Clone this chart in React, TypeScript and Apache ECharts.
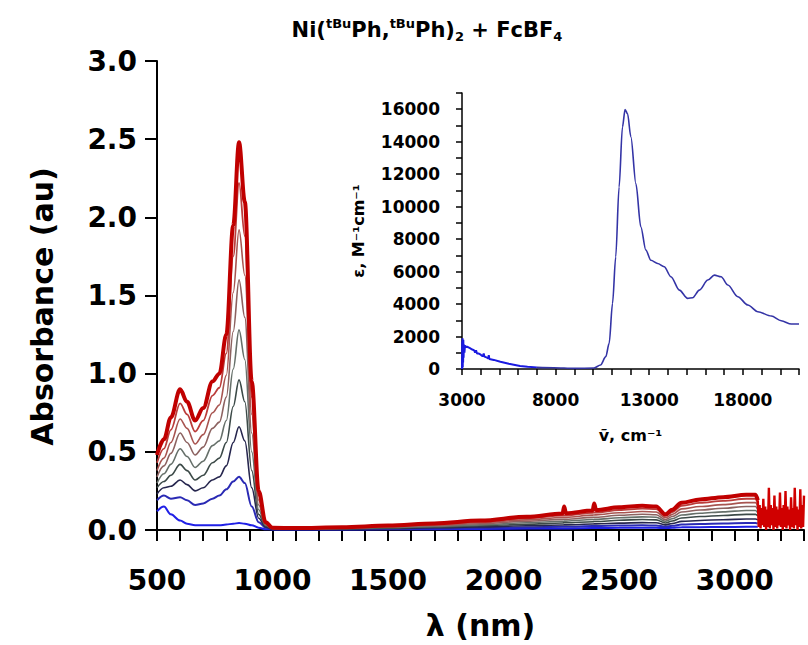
import React, { useEffect, useRef } from "react";
import * as echarts from "echarts";

// ---------- main spectra (absorbance vs wavelength) ----------
const WAVELENGTH_NM = [
  500, 530, 560, 600, 630, 665, 700, 740, 770, 800, 830, 855, 880, 910, 940, 970, 1000,
  1100, 1300, 1500, 1700, 1900, 2100, 2255, 2262, 2270, 2385, 2392, 2400, 2500, 2600,
  2660, 2700, 2730, 2770, 2850, 2950, 3050, 3090, 3100,
];

const ABS_0 = [
  0.12, 0.15, 0.10, 0.06, 0.04, 0.03, 0.03, 0.03, 0.03, 0.035, 0.04, 0.045, 0.04, 0.03, 0.015, 0.005, 0.003,
  0.003, 0.003, 0.004, 0.005, 0.007, 0.009, 0.010, 0.010, 0.010, 0.012, 0.012, 0.012, 0.014, 0.015,
  0.015, 0.012, 0.014, 0.017, 0.018, 0.019, 0.020, 0.020, 0.020,
];
const ABS_1 = [
  0.19, 0.22, 0.20, 0.21, 0.19, 0.16, 0.17, 0.20, 0.22, 0.26, 0.31, 0.34, 0.30, 0.15, 0.05, 0.015, 0.005,
  0.005, 0.005, 0.007, 0.009, 0.013, 0.018, 0.021, 0.021, 0.021, 0.025, 0.025, 0.025, 0.028, 0.030,
  0.029, 0.022, 0.027, 0.035, 0.039, 0.042, 0.045, 0.045, 0.042,
];
const ABS_2 = [
  0.23, 0.27, 0.28, 0.32, 0.29, 0.25, 0.27, 0.32, 0.34, 0.41, 0.56, 0.66, 0.57, 0.27, 0.075, 0.02, 0.006,
  0.006, 0.007, 0.010, 0.014, 0.020, 0.027, 0.032, 0.033, 0.033, 0.038, 0.039, 0.039, 0.044, 0.047,
  0.046, 0.033, 0.042, 0.055, 0.061, 0.066, 0.070, 0.070, 0.065,
];
const ABS_3 = [
  0.27, 0.31, 0.35, 0.42, 0.38, 0.32, 0.35, 0.43, 0.46, 0.56, 0.79, 0.96, 0.82, 0.38, 0.10, 0.025, 0.008,
  0.007, 0.008, 0.013, 0.019, 0.027, 0.037, 0.045, 0.046, 0.046, 0.053, 0.054, 0.054, 0.062, 0.067,
  0.065, 0.045, 0.058, 0.077, 0.086, 0.093, 0.100, 0.100, 0.090,
];
const ABS_4 = [
  0.30, 0.36, 0.42, 0.52, 0.47, 0.40, 0.44, 0.54, 0.57, 0.70, 1.03, 1.28, 1.09, 0.50, 0.13, 0.03, 0.01,
  0.008, 0.010, 0.016, 0.023, 0.033, 0.046, 0.056, 0.057, 0.057, 0.067, 0.068, 0.068, 0.078, 0.084,
  0.082, 0.056, 0.072, 0.096, 0.107, 0.116, 0.125, 0.125, 0.110,
];
const ABS_5 = [
  0.34, 0.41, 0.49, 0.62, 0.56, 0.48, 0.53, 0.65, 0.69, 0.85, 1.27, 1.60, 1.36, 0.62, 0.16, 0.035, 0.01,
  0.009, 0.012, 0.019, 0.028, 0.040, 0.056, 0.068, 0.069, 0.069, 0.081, 0.082, 0.082, 0.094, 0.101,
  0.098, 0.066, 0.086, 0.115, 0.128, 0.139, 0.150, 0.150, 0.130,
];
const ABS_6 = [
  0.38, 0.46, 0.56, 0.71, 0.65, 0.55, 0.61, 0.75, 0.80, 0.99, 1.52, 1.92, 1.63, 0.74, 0.19, 0.04, 0.012,
  0.010, 0.014, 0.022, 0.032, 0.046, 0.065, 0.080, 0.081, 0.081, 0.095, 0.096, 0.097, 0.110, 0.118,
  0.115, 0.078, 0.100, 0.135, 0.150, 0.162, 0.175, 0.175, 0.150,
];
const ABS_7 = [
  0.43, 0.52, 0.64, 0.81, 0.74, 0.63, 0.70, 0.86, 0.91, 1.13, 1.75, 2.22, 1.88, 0.85, 0.22, 0.045, 0.013,
  0.011, 0.016, 0.025, 0.037, 0.053, 0.075, 0.092, 0.094, 0.094, 0.110, 0.112, 0.112, 0.128, 0.137,
  0.133, 0.090, 0.115, 0.155, 0.173, 0.186, 0.200, 0.200, 0.170,
];
const ABS_8 = [
  0.48, 0.58, 0.72, 0.90, 0.82, 0.70, 0.78, 0.95, 1.00, 1.25, 1.95, 2.48, 2.10, 0.95, 0.25, 0.05, 0.015,
  0.012, 0.018, 0.028, 0.042, 0.060, 0.085, 0.105, 0.150, 0.107, 0.125, 0.170, 0.128, 0.145, 0.155,
  0.150, 0.100, 0.130, 0.175, 0.195, 0.210, 0.225, 0.225, 0.190,
];

// noisy tail of the final spectrum beyond 3100 nm
const NOISE_NM = [
  3100, 3104, 3108, 3112, 3116, 3120, 3124, 3128, 3132, 3136, 3140, 3144, 3148, 3152, 3156, 3160,
  3164, 3168, 3172, 3176, 3180, 3184, 3188, 3192, 3196, 3200, 3204, 3208, 3212, 3216, 3220, 3224,
  3228, 3232, 3236, 3240, 3244, 3248, 3252, 3256, 3260, 3264, 3268, 3272, 3276, 3280, 3284, 3288,
  3292, 3296, 3300,
];
const NOISE_ABS = [
  0.19, 0.02, 0.16, 0.01, 0.14, 0.03, 0.20, 0.02, 0.15, 0.00, 0.13, 0.02, 0.27, 0.01, 0.16, 0.03,
  0.14, 0.00, 0.22, 0.02, 0.15, 0.01, 0.13, 0.03, 0.24, 0.02, 0.14, 0.00, 0.16, 0.02, 0.25, 0.01,
  0.15, 0.03, 0.13, 0.00, 0.21, 0.02, 0.14, 0.01, 0.27, 0.03, 0.15, 0.00, 0.13, 0.02, 0.26, 0.01,
  0.16, 0.02, 0.22,
];

const SPECTRA = [ABS_0, ABS_1, ABS_2, ABS_3, ABS_4, ABS_5, ABS_6, ABS_7, ABS_8];
const SPECTRA_COLORS = [
  "#2020e6", "#2a2ab4", "#26264e", "#3c4a48", "#66706a", "#8c6260", "#a85450", "#bb3c3a", "#c00000",
];
const SPECTRA_WIDTHS = [2, 2, 1.6, 1.6, 1.6, 1.6, 1.6, 1.8, 4];

// ---------- inset (extinction coefficient vs wavenumber) ----------
const INSET_NOISE_WN = [
  3000, 3010, 3020, 3030, 3040, 3050, 3060, 3070, 3085, 3100, 3130, 3160, 3200, 3270, 3400, 3550,
  3650, 3700, 3750, 3800, 3900, 4000, 4100, 4160, 4200, 4340, 4400, 4430, 4460, 4700, 5050, 5500,
  6100, 6500, 7000,
];
const INSET_NOISE_EPS = [
  0, 1700, 200, 1900, 100, 1600, 400, 1800, 700, 1500, 1000, 1450, 1350, 1370, 1300, 1200,
  1150, 1000, 1150, 950, 950, 880, 780, 950, 760, 700, 640, 850, 620, 560, 450, 320,
  190, 140, 100,
];
const INSET_WN = [
  7000, 7900, 9000, 10050, 10400, 10680, 10860, 11040, 11210, 11390, 11570, 11710, 11840, 12020,
  12290, 12550, 12820, 13090, 13450, 13800, 14160, 14610, 15050, 15320, 15680, 16130, 16480, 16840,
  17200, 17730, 18270, 18800, 19520, 20050, 20590, 21000,
];
const INSET_EPS = [
  100, 80, 40, 60, 250, 760, 1580, 4040, 6900, 11200, 14900, 15980, 15730, 14300,
  11400, 8760, 7320, 6700, 6500, 6300, 5680, 4860, 4350, 4390, 4860, 5480, 5780, 5680,
  5170, 4450, 3940, 3530, 3260, 2970, 2770, 2770,
];

const MAIN_X_LABEL_STEP = 500;
const INSET_X_LABELS = [3000, 8000, 13000, 18000];
const INSET_Y_LABEL_STEP = 2000;

const FONT = "DejaVu Sans";

export default function App() {
  const ref = useRef<HTMLDivElement>(null);

  useEffect(() => {
    if (!ref.current) return;
    const chart = echarts.init(ref.current, null, { renderer: "svg" });

    const mainSeries: any[] = SPECTRA.map((vals, k) => ({
      type: "line",
      xAxisIndex: 0,
      yAxisIndex: 0,
      data: WAVELENGTH_NM.map((x, i) => [x, vals[i]]),
      showSymbol: false,
      smooth: 0.35,
      smoothMonotone: "x",
      lineStyle: { color: SPECTRA_COLORS[k], width: SPECTRA_WIDTHS[k] },
      z: 2 + k,
      silent: true,
    }));
    mainSeries.push({
      type: "line",
      xAxisIndex: 0,
      yAxisIndex: 0,
      data: NOISE_NM.map((x, i) => [x, NOISE_ABS[i]]),
      showSymbol: false,
      lineStyle: { color: "#d00000", width: 2.4 },
      z: 12,
      silent: true,
    });

    const axisLineBlack = (w: number) => ({ show: true, lineStyle: { color: "#000", width: w } });

    const option: any = {
      animation: false,
      backgroundColor: "#fff",
      textStyle: { fontFamily: FONT },
      grid: [
        { left: 157, top: 61, width: 647, height: 470 },
        { left: 462, top: 93, width: 337, height: 276 },
      ],
      xAxis: [
        {
          gridIndex: 0,
          type: "value",
          min: 500,
          max: 3300,
          interval: 100,
          axisLine: axisLineBlack(2),
          axisTick: { show: true, length: 11, lineStyle: { color: "#000", width: 2 } },
          axisLabel: {
            formatter: (v: number) => (v % MAIN_X_LABEL_STEP === 0 && v <= 3000 ? String(v) : ""),
            fontSize: 28,
            fontWeight: "bold",
            fontFamily: FONT,
            color: "#000",
            margin: 36,
          },
          splitLine: { show: false },
          name: "λ (nm)",
          nameLocation: "middle",
          nameGap: 80,
          nameTextStyle: { fontSize: 30, fontWeight: "bold", fontFamily: FONT, color: "#000" },
        },
        {
          gridIndex: 1,
          type: "value",
          min: 3000,
          max: 21000,
          interval: 1000,
          axisLine: axisLineBlack(1.5),
          axisTick: { show: true, length: 6, lineStyle: { color: "#000", width: 1.5 } },
          axisLabel: {
            formatter: (v: number) => (INSET_X_LABELS.indexOf(v) >= 0 ? String(v) : ""),
            fontSize: 17,
            fontWeight: "bold",
            fontFamily: FONT,
            color: "#000",
            margin: 22,
          },
          splitLine: { show: false },
          name: "ṽ, cm⁻¹",
          nameLocation: "middle",
          nameGap: 58,
          nameTextStyle: { fontSize: 16, fontWeight: "bold", fontFamily: FONT, color: "#000" },
        },
      ],
      yAxis: [
        {
          gridIndex: 0,
          type: "value",
          min: 0,
          max: 3,
          interval: 0.5,
          axisLine: axisLineBlack(2),
          axisTick: { show: true, length: 12, lineStyle: { color: "#000", width: 2 } },
          axisLabel: {
            formatter: (v: number) => v.toFixed(1),
            fontSize: 28,
            fontWeight: "bold",
            fontFamily: FONT,
            color: "#000",
            margin: 20,
          },
          splitLine: { show: false },
          name: "Absorbance (au)",
          nameLocation: "middle",
          nameGap: 100,
          nameTextStyle: {
            fontSize: 30,
            fontWeight: "bold",
            fontFamily: FONT,
            color: "#000",
            padding: [0, 22, 0, 0],
          },
        },
        {
          gridIndex: 1,
          type: "value",
          min: 0,
          max: 17000,
          interval: 1000,
          axisLine: axisLineBlack(1.5),
          axisTick: { show: true, length: 6, lineStyle: { color: "#000", width: 1.5 } },
          axisLabel: {
            formatter: (v: number) => (v % INSET_Y_LABEL_STEP === 0 && v <= 16000 ? String(v) : ""),
            fontSize: 17,
            fontWeight: "bold",
            fontFamily: FONT,
            color: "#000",
            margin: 22,
          },
          splitLine: { show: false },
          name: "ε, M⁻¹cm⁻¹",
          nameLocation: "middle",
          nameGap: 96,
          nameTextStyle: { fontSize: 16, fontWeight: "bold", fontFamily: FONT, color: "#000" },
        },
      ],
      graphic: [
        {
          type: "text",
          x: 427,
          y: 30,
          style: {
            text: "{m|Ni(}{s|tBu}{m|Ph,}{s|tBu}{m|Ph)}{b|2}{m| + FcBF}{b|4}",
            align: "center",
            verticalAlign: "middle",
            rich: {
              m: { fontSize: 21, fontWeight: "bold", fontFamily: FONT, fill: "#000", color: "#000", lineHeight: 26, verticalAlign: "middle" },
              s: { fontSize: 13, fontWeight: "bold", fontFamily: FONT, fill: "#000", color: "#000", lineHeight: 12, verticalAlign: "top" },
              b: { fontSize: 13, fontWeight: "bold", fontFamily: FONT, fill: "#000", color: "#000", lineHeight: 12, verticalAlign: "bottom" },
            },
          },
        },
      ],
      series: [
        ...mainSeries,
        {
          type: "line",
          xAxisIndex: 1,
          yAxisIndex: 1,
          data: INSET_NOISE_WN.map((x, i) => [x, INSET_NOISE_EPS[i]]),
          showSymbol: false,
          lineStyle: { color: "#1a1ae0", width: 2 },
          z: 20,
          silent: true,
        },
        {
          type: "line",
          xAxisIndex: 1,
          yAxisIndex: 1,
          data: INSET_WN.map((x, i) => [x, INSET_EPS[i]]),
          showSymbol: false,
          smooth: 0.3,
          smoothMonotone: "x",
          lineStyle: { color: "#3434a6", width: 1.6 },
          z: 20,
          silent: true,
        },
      ],
    };

    chart.setOption(option);
    return () => chart.dispose();
  }, []);

  return (
    <div
      ref={ref}
      style={{ position: "absolute", left: 0, top: 0, width: 808, height: 645 }}
    />
  );
}
